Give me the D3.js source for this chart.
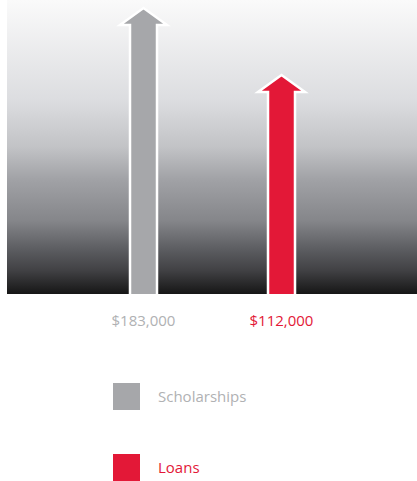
<!DOCTYPE html>
<html>
<head>
<meta charset="utf-8">
<script src="https://cdn.jsdelivr.net/npm/d3@7"></script>
<style>
  body { margin: 0; background: #fff; }
  svg { display: block; font-family: "Open Sans", "Liberation Sans", sans-serif; }
</style>
</head>
<body>
<div id="chart"></div>
<script>
const categories = ['Scholarships', 'Loans'];
const values = [183000, 112000];
const valueLabels = ['$183,000', '$112,000'];
const colors = ['#a6a7aa', '#e31837'];
const textColors = ['#b0b1b3', '#e31837'];

const W = 417, H = 481;
const plot = { left: 7, right: 417, top: 0, bottom: 294 };

const svg = d3.select('#chart').append('svg')
  .attr('width', W).attr('height', H);

// Background gradient
const grad = svg.append('defs').append('linearGradient')
  .attr('id', 'bg').attr('x1', 0).attr('y1', 0).attr('x2', 0).attr('y2', 1);
[[0, '#fafafa'], [0.34, '#dcdde0'], [0.5, '#c2c3c6'], [0.61, '#a1a2a6'],
 [0.75, '#85868a'], [0.85, '#5b5c60'], [0.92, '#414144'], [1, '#161616']]
  .forEach(([o, c]) => grad.append('stop').attr('offset', o).attr('stop-color', c));

svg.append('rect')
  .attr('x', plot.left).attr('y', plot.top)
  .attr('width', plot.right - plot.left).attr('height', plot.bottom - plot.top)
  .attr('fill', 'url(#bg)');

const x = d3.scalePoint()
  .domain(categories).range([143.5, 281.5]);
const y = d3.scaleLinear()
  .domain([-120000, 183000]).range([plot.bottom, 8]);

const bodyW = 27, headW = 47, headH = 17;

// Arrows
svg.selectAll('path.arrow').data(categories).enter().append('path')
  .attr('class', 'arrow')
  .attr('fill', (d, i) => colors[i])
  .attr('stroke', '#fff').attr('stroke-width', 2.5)
  .attr('stroke-linejoin', 'miter')
  .attr('d', (d, i) => {
    const cx = x(d), tip = y(values[i]), base = tip + headH;
    return `M${cx - bodyW / 2},${plot.bottom + 2} L${cx - bodyW / 2},${base} ` +
      `L${cx - headW / 2},${base} L${cx},${tip} L${cx + headW / 2},${base} ` +
      `L${cx + bodyW / 2},${base} L${cx + bodyW / 2},${plot.bottom + 2} Z`;
  });

// White strip below plot to clean up stroke
svg.append('rect')
  .attr('x', 0).attr('y', plot.bottom).attr('width', W).attr('height', 4)
  .attr('fill', '#fff');

// Value labels
svg.selectAll('text.val').data(categories).enter().append('text')
  .attr('class', 'val')
  .attr('x', d => x(d)).attr('y', 326)
  .attr('text-anchor', 'middle')
  .attr('font-size', 15)
  .attr('fill', (d, i) => textColors[i])
  .text((d, i) => valueLabels[i]);

// Legend
const legend = svg.selectAll('g.legend').data(categories).enter().append('g')
  .attr('class', 'legend')
  .attr('transform', (d, i) => `translate(113,${383 + i * 71})`);
legend.append('rect')
  .attr('width', 27).attr('height', 27)
  .attr('fill', (d, i) => colors[i]);
legend.append('text')
  .attr('x', 45).attr('y', 19)
  .attr('font-size', 15)
  .attr('fill', (d, i) => textColors[i])
  .text(d => d);
</script>
</body>
</html>
